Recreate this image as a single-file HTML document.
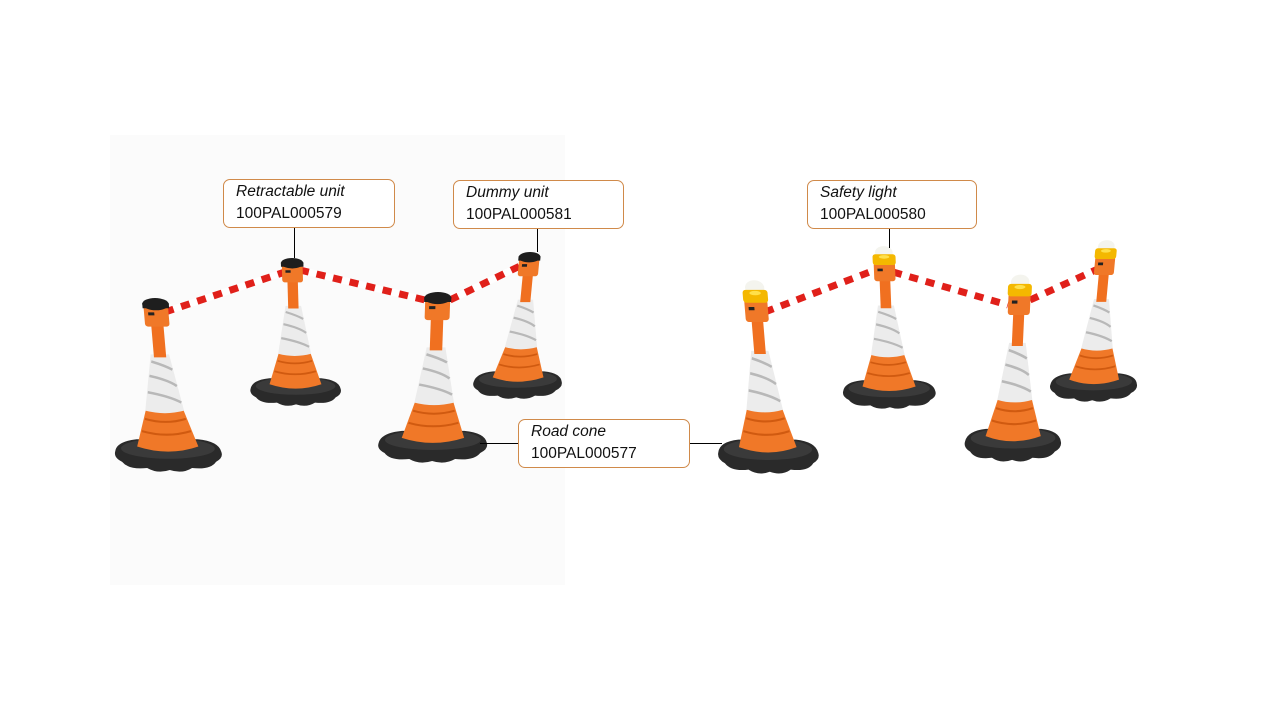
<!DOCTYPE html>
<html><head><meta charset="utf-8"><style>
html,body{margin:0;padding:0;background:#fff;width:1280px;height:720px;overflow:hidden}
.lbl{position:absolute;border:1px solid #d08a4a;border-radius:7px;background:#fff;font-family:"Liberation Sans",sans-serif;font-size:15.5px;line-height:22px;padding:1px 12px;box-sizing:border-box;color:#111}
.lbl i{display:block}
</style></head><body>
<svg width="1280" height="720" style="position:absolute;left:0;top:0">
<defs>
<g id="cone">
  <path d="M-52,150 Q-50,140 -30,138 L30,138 Q50,140 52,150 Q54,156 46,160 Q40,168 22,166 Q12,172 0,168 Q-12,172 -22,166 Q-40,168 -46,160 Q-54,156 -52,150Z" fill="#2a2a2a"/>
  <ellipse cx="0" cy="147" rx="46" ry="10" fill="#3a3a3a"/>
  <path d="M-18,108 L18,108 L30,145 Q0,155 -30,145Z" fill="#f07828"/>
  <path d="M-20,118 Q0,124 20,118 M-24,130 Q0,137 24,130" stroke="#d05a10" stroke-width="2" fill="none"/>
  <path d="M-9,55 L9,55 L19,110 Q0,115 -19,110Z" fill="#ececec"/>
  <path d="M-9,62 Q4,66 11,70 M-12,76 Q6,80 14,86 M-15,92 Q6,96 17,102" stroke="#b8b8b8" stroke-width="2.5" fill="none"/>
  <rect x="-6" y="26" width="12" height="32" fill="#f07020"/>
  <rect x="-12" y="7" width="24" height="21" rx="3" fill="#f07828"/>
  <rect x="-8" y="14" width="6" height="3" fill="#222"/>
</g>
<g id="cap"><ellipse cx="0" cy="6" rx="13" ry="6" fill="#1e1e1e"/><rect x="-13" y="5" width="26" height="5" fill="#1e1e1e"/></g>
<g id="light"><ellipse cx="0" cy="-4" rx="10" ry="7" fill="#f4f4ee"/><rect x="-13" y="-2" width="26" height="12" rx="3" fill="#f4b800"/><ellipse cx="0" cy="1" rx="6" ry="2" fill="#ffe04a"/></g>
</defs>
<rect x="110" y="135" width="455" height="450" fill="#fbfbfb"/>
<g stroke-width="7">
<g stroke="#fff"><line x1="165" y1="312" x2="285" y2="272"/><line x1="300" y1="270" x2="425" y2="300"/><line x1="450" y1="300" x2="522" y2="265"/><line x1="765" y1="312" x2="875" y2="270"/><line x1="893" y1="272" x2="1008" y2="305"/><line x1="1030" y1="300" x2="1100" y2="268"/></g>
<g stroke="#e0201a" stroke-dasharray="9 8"><line x1="165" y1="312" x2="285" y2="272"/><line x1="300" y1="270" x2="425" y2="300"/><line x1="450" y1="300" x2="522" y2="265"/><line x1="765" y1="312" x2="875" y2="270"/><line x1="893" y1="272" x2="1008" y2="305"/><line x1="1030" y1="300" x2="1100" y2="268"/></g>
</g>
<g transform="matrix(0.846,0,-0.082,0.865,530,252)"><use href="#cone"/><use href="#cap"/></g>
<g transform="matrix(0.865,0,0.024,0.871,292,258)"><use href="#cone"/><use href="#cap"/></g>
<g transform="matrix(1.02,0,0.088,1.024,155,298)"><use href="#cone"/><use href="#cap"/></g>
<g transform="matrix(1.04,0,-0.035,1.006,438,292)"><use href="#cone"/><use href="#cap"/></g>
<g transform="matrix(0.83,0,-0.082,0.894,1106,250)"><use href="#cone"/><use href="#light"/></g>
<g transform="matrix(0.885,0,0.035,0.9,884,256)"><use href="#cone"/><use href="#light"/></g>
<g transform="matrix(0.96,0,0.088,1.07,755,292)"><use href="#cone"/><use href="#light"/></g>
<g transform="matrix(0.92,0,-0.047,1.035,1020,286)"><use href="#cone"/><use href="#light"/></g>
<g stroke="#000" stroke-width="1">
<line x1="294.5" y1="227" x2="294.5" y2="258"/>
<line x1="537.5" y1="228" x2="537.5" y2="252"/>
<line x1="889.5" y1="228" x2="889.5" y2="248"/>
<line x1="480" y1="443.5" x2="518" y2="443.5"/>
<line x1="689" y1="443.5" x2="722" y2="443.5"/>
</g>
</svg>
<div class="lbl" style="left:223px;top:179px;width:172px;height:49px"><i>Retractable unit</i>100PAL000579</div>
<div class="lbl" style="left:453px;top:180px;width:171px;height:49px"><i>Dummy unit</i>100PAL000581</div>
<div class="lbl" style="left:807px;top:180px;width:170px;height:49px"><i>Safety light</i>100PAL000580</div>
<div class="lbl" style="left:518px;top:419px;width:172px;height:49px"><i>Road cone</i>100PAL000577</div>
</body></html>
